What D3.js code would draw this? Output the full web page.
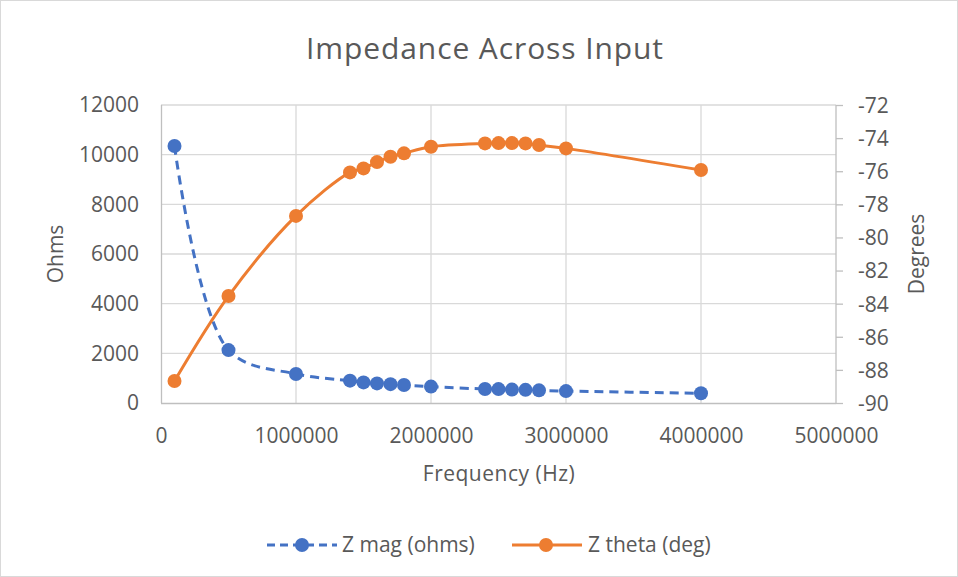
<!DOCTYPE html>
<html>
<head>
<meta charset="utf-8">
<script src="https://cdn.jsdelivr.net/npm/d3@7"></script>
<style>
  body { margin: 0; background: #fff; }
  svg { font-family: "Open Sans", sans-serif; }
</style>
</head>
<body>
<script>
const width = 958;
const height = 577;

// data
const freq = [100000, 500000, 1000000, 1400000, 1500000, 1600000, 1700000, 1800000,
              2000000, 2400000, 2500000, 2600000, 2700000, 2800000, 3000000, 4000000];
const zMag = [10350, 2130, 1170, 900, 830, 790, 760, 725,
              660, 565, 560, 540, 530, 510, 480, 390];
const zTheta = [-88.67, -83.54, -78.7, -76.07, -75.83, -75.45, -75.13, -74.92,
                -74.52, -74.32, -74.3, -74.3, -74.32, -74.42, -74.62, -75.93];
const xTicks = [0, 1000000, 2000000, 3000000, 4000000, 5000000];
const yLeftTicks = [0, 2000, 4000, 6000, 8000, 10000, 12000];
const yRightTicks = [-90, -88, -86, -84, -82, -80, -78, -76, -74, -72];

const blue = '#4472c4';
const orange = '#ed7d31';
const textCol = '#595959';
const fs = '21px';

const svg = d3.select('body').append('svg')
  .attr('width', width)
  .attr('height', height);

svg.append('rect')
  .attr('x', 0.5).attr('y', 0.5)
  .attr('width', width - 1).attr('height', height - 1)
  .attr('fill', '#fff').attr('stroke', '#d9d9d9');

const x = d3.scaleLinear().domain([0, 5000000]).range([161, 836]);
const yL = d3.scaleLinear().domain([0, 12000]).range([403, 105]);
const yR = d3.scaleLinear().domain([-90, -72]).range([403, 105]);

// gridlines
svg.append('g').selectAll('line')
  .data(yLeftTicks.slice(1))
  .enter().append('line')
  .attr('x1', x(0)).attr('x2', x(5000000))
  .attr('y1', d => yL(d)).attr('y2', d => yL(d))
  .attr('stroke', '#d9d9d9').attr('stroke-width', 1.3);

svg.append('g').selectAll('line')
  .data(xTicks.slice(1, -1))
  .enter().append('line')
  .attr('x1', d => x(d)).attr('x2', d => x(d))
  .attr('y1', yL(0)).attr('y2', yL(12000))
  .attr('stroke', '#d9d9d9').attr('stroke-width', 1.3);

// axes (plain hyphen for negatives, like the original)
const plain = d => String(d);
const axisCol = '#bfbfbf';
const xAxis = svg.append('g')
  .attr('transform', `translate(0,${yL(0)})`)
  .call(d3.axisBottom(x).tickValues(xTicks).tickSize(0).tickPadding(26).tickFormat(plain));
const yAxisL = svg.append('g')
  .attr('transform', `translate(${x(0)},0)`)
  .call(d3.axisLeft(yL).tickValues(yLeftTicks).tickSize(0).tickPadding(22).tickFormat(plain));
const yAxisR = svg.append('g')
  .attr('transform', `translate(${x(5000000)},0)`)
  .call(d3.axisRight(yR).tickValues(yRightTicks).tickSize(7).tickPadding(22).tickFormat(plain));

[xAxis, yAxisL, yAxisR].forEach(a => {
  a.select('.domain').attr('stroke', axisCol).attr('stroke-width', 1.3);
  a.selectAll('.tick line').attr('stroke', axisCol).attr('stroke-width', 1.3);
  a.selectAll('text').attr('fill', textCol).style('font-size', fs)
    .style('font-family', '"Open Sans", sans-serif');
});
xAxis.select('.domain').attr('d', `M${x(0)},0.5H${x(5000000)}`);
yAxisL.select('.domain').attr('d', `M0.5,${yL(0)}V${yL(12000)}`);
yAxisR.select('.domain').attr('d', `M0,${yR(-90)}V${yR(-72)}`);
xAxis.selectAll('text').attr('y', 40).attr('dy', 0);
yAxisR.selectAll('text').attr('x', 22).attr('dy', '0.35em');

// titles
svg.append('text')
  .attr('x', 485).attr('y', 59)
  .attr('text-anchor', 'middle')
  .attr('fill', textCol).style('font-size', '30px')
  .style('letter-spacing', '0.9px')
  .text('Impedance Across Input');

svg.append('text')
  .attr('x', 499).attr('y', 481)
  .attr('text-anchor', 'middle')
  .attr('fill', textCol).style('font-size', fs)
  .style('letter-spacing', '0.5px')
  .text('Frequency (Hz)');

svg.append('text')
  .attr('transform', `translate(63,${(yL(0) + yL(12000)) / 2}) rotate(-90)`)
  .attr('text-anchor', 'middle')
  .attr('fill', textCol).style('font-size', fs)
  .text('Ohms');

svg.append('text')
  .attr('transform', `translate(924,${(yL(0) + yL(12000)) / 2}) rotate(-90)`)
  .attr('text-anchor', 'middle')
  .attr('fill', textCol).style('font-size', fs)
  .text('Degrees');

// series
const magLine = d3.line()
  .x((d, i) => x(freq[i]))
  .y(d => yL(d))
  .curve(d3.curveCatmullRom.alpha(0.5));

const thetaLine = d3.line()
  .x((d, i) => x(freq[i]))
  .y(d => yR(d))
  .curve(d3.curveCatmullRom.alpha(0.5));

svg.append('path')
  .datum(zMag)
  .attr('d', magLine)
  .attr('fill', 'none')
  .attr('stroke', blue).attr('stroke-width', 3)
  .attr('stroke-dasharray', '9,6');

svg.append('path')
  .datum(zTheta)
  .attr('d', thetaLine)
  .attr('fill', 'none')
  .attr('stroke', orange).attr('stroke-width', 3);

svg.append('g').selectAll('circle')
  .data(zMag)
  .enter().append('circle')
  .attr('cx', (d, i) => x(freq[i]))
  .attr('cy', d => yL(d))
  .attr('r', 7)
  .attr('fill', blue);

svg.append('g').selectAll('circle')
  .data(zTheta)
  .enter().append('circle')
  .attr('cx', (d, i) => x(freq[i]))
  .attr('cy', d => yR(d))
  .attr('r', 7)
  .attr('fill', orange);

// legend
const legend = svg.append('g').attr('id', 'legend');
const legY = 545;

legend.append('line')
  .attr('x1', 267).attr('x2', 337).attr('y1', legY).attr('y2', legY)
  .attr('stroke', blue).attr('stroke-width', 3).attr('stroke-dasharray', '8,5');
legend.append('circle').attr('cx', 302).attr('cy', legY).attr('r', 7).attr('fill', blue);
legend.append('text')
  .attr('x', 342).attr('y', legY).attr('dy', '0.35em')
  .attr('fill', textCol).style('font-size', fs)
  .text('Z mag (ohms)');

legend.append('line')
  .attr('x1', 512).attr('x2', 582).attr('y1', legY).attr('y2', legY)
  .attr('stroke', orange).attr('stroke-width', 3);
legend.append('circle').attr('cx', 546).attr('cy', legY).attr('r', 7).attr('fill', orange);
legend.append('text')
  .attr('x', 588).attr('y', legY).attr('dy', '0.35em')
  .attr('fill', textCol).style('font-size', fs)
  .text('Z theta (deg)');
</script>
</body>
</html>
